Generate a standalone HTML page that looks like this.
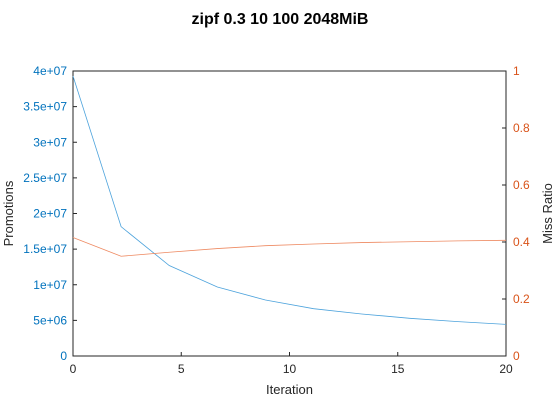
<!DOCTYPE html>
<html><head><meta charset="utf-8"><style>
body{margin:0;background:#fff;}
svg{display:block;font-family:"Liberation Sans",sans-serif;}
</style></head><body>
<svg id="chart" width="560" height="420">
<rect width="560" height="420" fill="#fff"/>
<text x="280" y="24" text-anchor="middle" font-size="16" font-weight="bold">zipf 0.3 10 100 2048MiB</text>
<g id="g"></g>
</svg>
<script>
const iterations=[0,2.222,4.444,6.667,8.889,11.111,13.333,15.556,17.778,20];
const promotions=[3.93e7,1.815e7,1.27e7,0.968e7,7.86e6,6.64e6,5.9e6,5.29e6,4.82e6,4.44e6];
const missRatio=[0.416,0.350,0.364,0.377,0.387,0.393,0.398,0.401,0.404,0.406];
const xTicks=[0,5,10,15,20];
const yTicks=[0,5e6,1e7,1.5e7,2e7,2.5e7,3e7,3.5e7,4e7];
const yTickLabels=["0","5e+06","1e+07","1.5e+07","2e+07","2.5e+07","3e+07","3.5e+07","4e+07"];
const y2Ticks=[0,0.2,0.4,0.6,0.8,1];
const y2TickLabels=["0","0.2","0.4","0.6","0.8","1"];
const L=73,R=506,T=71,B=356;
const xs=v=>L+(v-0)/20*(R-L);
const ys=v=>B-v/4e7*(B-T);
const y2s=v=>B-v*(B-T);
const NS="http://www.w3.org/2000/svg";
const g=document.getElementById('g');
function mk(tag,attrs,text){const e=document.createElementNS(NS,tag);for(const k in attrs)e.setAttribute(k,attrs[k]);if(text!==undefined)e.textContent=text;g.appendChild(e);return e;}
let e;
e=mk('rect',{x:L,y:T,width:R-L,height:B-T,fill:'none',stroke:'#262626','stroke-width':1});


xTicks.forEach(t=>{
 e=mk('line',{x1:xs(t),x2:xs(t),y1:B,y2:B-4,stroke:'#262626'});
 
 
 e=mk('text',{x:xs(t),y:B+17,'text-anchor':'middle','font-size':12,fill:'#262626'},String(t));
 
 
});
yTicks.forEach((t,i)=>{
 e=mk('line',{x1:L,x2:L+4,y1:ys(t),y2:ys(t),stroke:'#262626'});
 
 
 e=mk('text',{x:L-6,y:ys(t)+4,'text-anchor':'end','font-size':12,fill:'#0072bd'},yTickLabels[i]);
 
 
});
y2Ticks.forEach((t,i)=>{
 e=mk('line',{x1:R,x2:R-4,y1:y2s(t),y2:y2s(t),stroke:'#262626'});
 
 
 e=mk('text',{x:R+7,y:y2s(t)+4,'text-anchor':'start','font-size':12,fill:'#d95319'},y2TickLabels[i]);
 
 
});
e=mk('polyline',{points:iterations.map((x,i)=>xs(x)+','+ys(promotions[i])).join(' '),fill:'none',stroke:'#4da3dc','stroke-width':0.8});


e=mk('polyline',{points:iterations.map((x,i)=>xs(x)+','+y2s(missRatio[i])).join(' '),fill:'none',stroke:'#ee8a62','stroke-width':0.8});


e=mk('text',{x:(L+R)/2,y:394,'text-anchor':'middle','font-size':13,fill:'#262626'},'Iteration');


e=mk('text',{x:0,y:0,'text-anchor':'middle','font-size':13,fill:'#262626',transform:'translate(13,'+((T+B)/2)+') rotate(-90)'},'Promotions');


e=mk('text',{x:0,y:0,'text-anchor':'middle','font-size':13,fill:'#262626',transform:'translate(552,'+((T+B)/2)+') rotate(-90)'},'Miss Ratio');


</script>
</body></html>
